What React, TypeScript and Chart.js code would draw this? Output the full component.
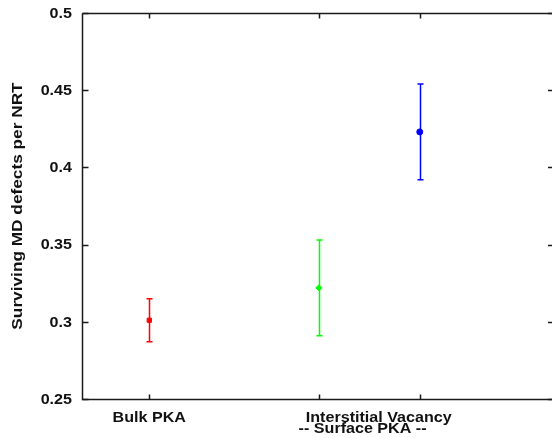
import React, { useEffect, useRef } from "react";
import { Chart, registerables } from "chart.js";

Chart.register(...registerables);

const categories = ["Bulk PKA", "Interstitial", "Vacancy"];
const xPositions = [1, 3.52, 5.02];
const means = [0.301, 0.322, 0.423];
const lows = [0.287, 0.291, 0.392];
const highs = [0.315, 0.353, 0.454];
const colors = ["#ff0000", "#00ff00", "#0000ff"];
const pointStyles = ["rect", "rectRot", "circle"];
const yTicks = [0.25, 0.3, 0.35, 0.4, 0.45, 0.5];
const yTickLabels = ["0.25", "0.3", "0.35", "0.4", "0.45", "0.5"];
const xLabelTexts = ["Bulk PKA", "Interstitial Vacancy", "-- Surface PKA --"];
const xLabelPositions = [1, 4.41, 4.17];
const xLabelLines = [0, 0, 1];
const yTitle = "Surviving MD defects per NRT";

const FONT = "bold 14px 'Liberation Sans', Arial, Helvetica, sans-serif";
const TITLE_FONT = "bold 15px 'Liberation Sans', Arial, Helvetica, sans-serif";
const STRETCH = 1.15;

function stretchedText(ctx: CanvasRenderingContext2D, text: string, x: number, y: number, align: "left" | "right" | "center") {
  ctx.save();
  ctx.translate(x, y);
  ctx.scale(STRETCH, 1);
  ctx.textAlign = align;
  ctx.fillText(text, 0, 0);
  ctx.restore();
}

const errorBarPlugin = {
  id: "errorBars",
  beforeDatasetsDraw(chart: any) {
    const ctx = chart.ctx;
    const xs = chart.scales.x;
    const ys = chart.scales.y;
    ctx.save();
    for (let i = 0; i < xPositions.length; i++) {
      const x = Math.round(xs.getPixelForValue(xPositions[i])) + 0.5;
      const y1 = ys.getPixelForValue(lows[i]);
      const y2 = ys.getPixelForValue(highs[i]);
      ctx.strokeStyle = colors[i];
      ctx.lineWidth = 1.5;
      ctx.beginPath();
      ctx.moveTo(x, y1);
      ctx.lineTo(x, y2);
      ctx.moveTo(x - 3, y1);
      ctx.lineTo(x + 3, y1);
      ctx.moveTo(x - 3, y2);
      ctx.lineTo(x + 3, y2);
      ctx.stroke();
    }
    ctx.restore();
  },
  afterDraw(chart: any) {
    const ctx = chart.ctx;
    const xs = chart.scales.x;
    const ys = chart.scales.y;
    const a = chart.chartArea;
    ctx.save();
    ctx.strokeStyle = "#1a1a1a";
    ctx.lineWidth = 1.5;
    const L = a.left + 0.5;
    const R = a.right;
    const T = a.top + 0.5;
    const B = a.bottom + 0.5;
    ctx.beginPath();
    ctx.moveTo(L, T);
    ctx.lineTo(R, T);
    ctx.moveTo(L, T);
    ctx.lineTo(L, B);
    ctx.lineTo(R, B);
    ctx.lineTo(R, T);
    ctx.stroke();

    ctx.beginPath();
    for (const v of yTicks) {
      const y = Math.round(ys.getPixelForValue(v)) + 0.5;
      ctx.moveTo(L, y);
      ctx.lineTo(L + 6, y);
      ctx.moveTo(R, y);
      ctx.lineTo(R - 5, y);
    }
    for (const xv of xPositions) {
      const x = Math.round(xs.getPixelForValue(xv)) + 0.5;
      ctx.moveTo(x, B);
      ctx.lineTo(x, B - 5);
      ctx.moveTo(x, T);
      ctx.lineTo(x, T + 5);
    }
    ctx.stroke();

    ctx.fillStyle = "#111";
    ctx.font = FONT;
    ctx.textBaseline = "middle";
    yTicks.forEach((v, i) => {
      stretchedText(ctx, yTickLabels[i], 72, ys.getPixelForValue(v) + 1, "right");
    });

    ctx.textBaseline = "alphabetic";
    xLabelTexts.forEach((t, i) => {
      const x = xs.getPixelForValue(xLabelPositions[i]);
      stretchedText(ctx, t, x, a.bottom + 23 + xLabelLines[i] * 11, "center");
    });

    ctx.font = TITLE_FONT;
    ctx.translate(18, 206);
    ctx.rotate(-Math.PI / 2);
    ctx.textBaseline = "middle";
    stretchedText(ctx, yTitle, 0, 0, "center");
    ctx.restore();
  },
};

export default function App() {
  const ref = useRef<HTMLCanvasElement | null>(null);

  useEffect(() => {
    if (!ref.current) return;
    const chart = new Chart(ref.current, {
      type: "scatter",
      data: {
        datasets: categories.map((c, i) => ({
          label: c,
          data: [{ x: xPositions[i], y: means[i] }],
          backgroundColor: colors[i],
          borderColor: colors[i],
          pointStyle: pointStyles[i] as any,
          pointRadius: 3,
          borderWidth: 1,
        })),
      },
      options: {
        responsive: false,
        animation: false,
        events: [],
        layout: { autoPadding: false, padding: { left: 82, right: 1, top: 13, bottom: 39 } },
        plugins: {
          legend: { display: false },
          tooltip: { enabled: false },
          title: { display: false },
        },
        scales: {
          x: { type: "linear", min: 0, max: 7, display: false },
          y: { type: "linear", min: 0.25, max: 0.5, display: false },
        },
      },
      plugins: [errorBarPlugin],
    });
    return () => chart.destroy();
  }, []);

  return (
    <div style={{ position: "fixed", left: 0, top: 0, width: 552, height: 438, overflow: "hidden", background: "#fff" }}>
      <canvas ref={ref} width={554} height={438} style={{ width: 554, height: 438, display: "block" }} />
    </div>
  );
}
